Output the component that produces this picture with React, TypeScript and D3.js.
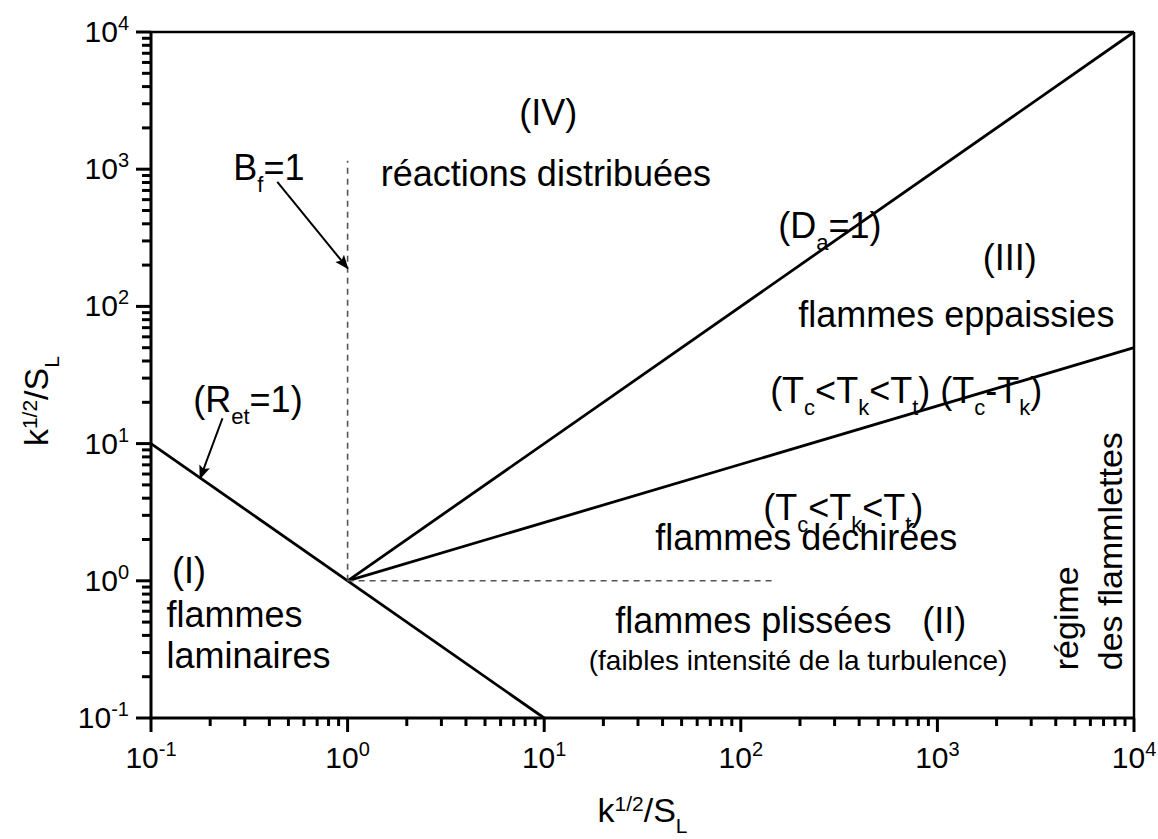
import React from 'react';
import * as d3 from 'd3';

// regime boundaries (log-log diagram)
const retLine: [number, number][] = [[0.1, 10], [10, 0.1]];
const daLine: [number, number][] = [[1, 1], [1e4, 1e4]];
const kaLine: [number, number][] = [[1, 1], [1e4, 50]];
const bfDashed: [number, number][] = [[1, 1], [1, 1150]];
const kaDashed: [number, number][] = [[1, 1], [150, 1]];

const xDomain = [0.1, 1e4];
const yDomain = [0.1, 1e4];
const decadeExps = [-1, 0, 1, 2, 3, 4];

type Seg = { t: string; sub?: boolean; sup?: boolean };
type Label = { x: number; y: number; parts: Seg[]; size: number; anchor?: string };

const labels: Label[] = [
  { x: 0.262, y: 836, parts: [{ t: 'B' }, { t: 'f', sub: true }, { t: '=1' }], size: 36 },
  { x: 10.5, y: 2100, parts: [{ t: '(IV)' }], size: 36, anchor: 'middle' },
  { x: 10.2, y: 760, parts: [{ t: 'réactions distribuées' }], size: 36, anchor: 'middle' },
  { x: 155, y: 315, parts: [{ t: '(D' }, { t: 'a', sub: true }, { t: '=1)' }], size: 36 },
  { x: 1700, y: 185, parts: [{ t: '(III)' }], size: 36 },
  { x: 196, y: 70.8, parts: [{ t: 'flammes eppaissies' }], size: 36 },
  { x: 141, y: 19.7, parts: [{ t: '(T' }, { t: 'c', sub: true }, { t: '<T' }, { t: 'k', sub: true }, { t: '<T' }, { t: 't', sub: true }, { t: ') (T' }, { t: 'c', sub: true }, { t: '-T' }, { t: 'k', sub: true }, { t: ')' }], size: 36 },
  { x: 130, y: 2.77, parts: [{ t: '(T' }, { t: 'c', sub: true }, { t: '<T' }, { t: 'k', sub: true }, { t: '<T' }, { t: 't', sub: true }, { t: ')' }], size: 36 },
  { x: 36.7, y: 1.67, parts: [{ t: 'flammes déchirées' }], size: 36 },
  { x: 23, y: 0.415, parts: [{ t: 'flammes plissées' }], size: 36 },
  { x: 838, y: 0.415, parts: [{ t: '(II)' }], size: 36 },
  { x: 2270, y: 0.223, parts: [{ t: '(faibles intensité de la turbulence)' }], size: 28, anchor: 'end' },
  { x: 0.128, y: 0.96, parts: [{ t: '(I)' }], size: 36 },
  { x: 0.12, y: 0.459, parts: [{ t: 'flammes' }], size: 36 },
  { x: 0.12, y: 0.231, parts: [{ t: 'laminaires' }], size: 36 },
  { x: 0.164, y: 17.0, parts: [{ t: '(R' }, { t: 'et', sub: true }, { t: '=1)' }], size: 36 },
];

const vertLabels = [
  { x: 5210, y: 0.223, text: 'régime' },
  { x: 8730, y: 0.223, text: 'des flammlettes' },
];

const arrows: [number, number][][] = [
  [[0.439, 807], [1, 190]],
  [[0.231, 15.3], [0.178, 5.6]],
];

const W = 1158, H = 839;
const m = { left: 151, right: 24, top: 32, bottom: 121 };
const font = '"Liberation Sans", Arial, sans-serif';

function Rich({ parts, size }: { parts: Seg[]; size: number }) {
  const small = Math.round(size * 0.62);
  const shift = Math.round(size * 0.33);
  let cur = 0;
  return (
    <>
      {parts.map((p, i) => {
        const target = p.sub ? shift : p.sup ? -shift : 0;
        const dy = target - cur;
        cur = target;
        return (
          <tspan key={i} dy={dy} fontSize={p.sub || p.sup ? small : size}>{p.t}</tspan>
        );
      })}
    </>
  );
}

export default function App() {
  const x = d3.scaleLog().domain(xDomain).range([m.left, W - m.right]);
  const y = d3.scaleLog().domain(yDomain).range([H - m.bottom, m.top]);
  const line = d3.line<[number, number]>().x(d => x(d[0])).y(d => y(d[1]));
  const [x0, x1] = x.range();
  const [y0, y1] = y.range();
  const xTicks = x.ticks();
  const yTicks = y.ticks();
  const isMajor = (v: number) => Math.abs(Math.log10(v) - Math.round(Math.log10(v))) < 1e-9;

  return (
    <svg width={W} height={H} style={{ position: 'absolute', left: 0, top: 0, background: '#fff' }} fontFamily={font}>
      <defs>
        <marker id="ah" viewBox="0 0 10 10" refX="9" refY="5" markerWidth="7" markerHeight="7" orient="auto">
          <path d="M0,1 L10,5 L0,9 L2,5 Z" fill="#000" />
        </marker>
      </defs>

      {/* frame */}
      <line x1={x0} x2={x1} y1={y1} y2={y1} stroke="#000" strokeWidth={2.5} />
      <line x1={x1} x2={x1} y1={y1} y2={y0} stroke="#000" strokeWidth={2.5} />
      <line x1={x0} x2={x1 + 1} y1={y0} y2={y0} stroke="#000" strokeWidth={3} />
      <line x1={x0} x2={x0} y1={y0 + 1.5} y2={y1 - 1} stroke="#000" strokeWidth={3} />

      {/* ticks */}
      {xTicks.map((t, i) => (
        <line key={'xt' + i} x1={x(t)} x2={x(t)} y1={y0} y2={y0 + (isMajor(t) ? 14 : 8)} stroke="#000" strokeWidth={3} />
      ))}
      {yTicks.map((t, i) => (
        <line key={'yt' + i} x1={x0} x2={x0 - (isMajor(t) ? 15 : 9)} y1={y(t)} y2={y(t)} stroke="#000" strokeWidth={3} />
      ))}
      {decadeExps.map(e => (
        <text key={'xl' + e} x={x(Math.pow(10, e))} y={y0 + 50} textAnchor="middle" fontSize={30}>
          10<tspan dy={-12} fontSize={20}>{e}</tspan>
        </text>
      ))}
      {decadeExps.map(e => (
        <text key={'yl' + e} x={x0 - 22} y={y(Math.pow(10, e)) + 10} textAnchor="end" fontSize={30}>
          10<tspan dy={-12} fontSize={20}>{e}</tspan>
        </text>
      ))}

      {/* axis titles */}
      <text x={(x0 + x1) / 2} y={822} textAnchor="middle">
        <Rich size={34} parts={[{ t: 'k' }, { t: '1/2', sup: true }, { t: '/S' }, { t: 'L', sub: true }]} />
      </text>
      <text transform={`translate(48,${y(20.4)}) rotate(-90)`} textAnchor="middle">
        <Rich size={34} parts={[{ t: 'k' }, { t: '1/2', sup: true }, { t: '/S' }, { t: 'L', sub: true }]} />
      </text>

      {/* boundaries */}
      {[retLine, daLine, kaLine].map((l, i) => (
        <path key={'b' + i} d={line(l) || ''} fill="none" stroke="#000" strokeWidth={2.8} />
      ))}
      {[bfDashed, kaDashed].map((l, i) => (
        <path key={'d' + i} d={line(l) || ''} fill="none" stroke="#555" strokeWidth={1.6} strokeDasharray="6,5" />
      ))}
      {arrows.map((a, i) => (
        <path key={'a' + i} d={line(a) || ''} fill="none" stroke="#000" strokeWidth={2} markerEnd="url(#ah)" />
      ))}

      {/* annotations */}
      {labels.map((l, i) => (
        <text key={'l' + i} x={x(l.x)} y={y(l.y)} textAnchor={l.anchor || 'start'}>
          <Rich parts={l.parts} size={l.size} />
        </text>
      ))}
      {vertLabels.map((v, i) => (
        <text key={'v' + i} transform={`translate(${x(v.x)},${y(v.y)}) rotate(-90)`} fontSize={34}>{v.text}</text>
      ))}
    </svg>
  );
}
